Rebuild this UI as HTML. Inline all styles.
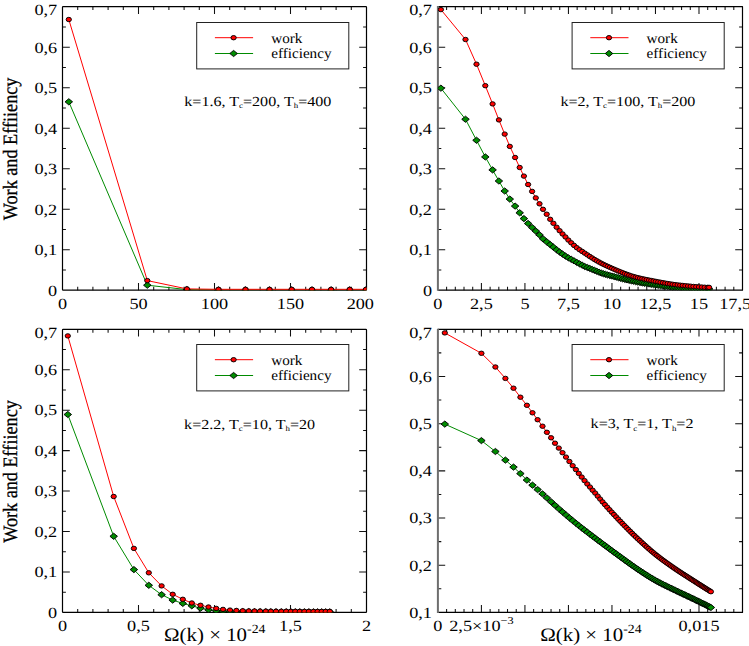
<!DOCTYPE html>
<html><head><meta charset="utf-8"><style>
html,body{margin:0;padding:0;background:#fff;width:749px;height:646px;overflow:hidden}
svg{display:block}
text{font-family:"Liberation Serif",serif;fill:#000;text-rendering:geometricPrecision}
</style></head><body>
<svg width="749" height="646" viewBox="0 0 749 646">
<path d="M77.7 290.2v-3.4M77.7 6.7v3.4M92.9 290.2v-3.4M92.9 6.7v3.4M108.1 290.2v-3.4M108.1 6.7v3.4M123.3 290.2v-3.4M123.3 6.7v3.4M138.5 290.2v-7.3M138.5 6.7v7.3M153.7 290.2v-3.4M153.7 6.7v3.4M168.9 290.2v-3.4M168.9 6.7v3.4M184.1 290.2v-3.4M184.1 6.7v3.4M199.3 290.2v-3.4M199.3 6.7v3.4M214.5 290.2v-7.3M214.5 6.7v7.3M229.7 290.2v-3.4M229.7 6.7v3.4M244.9 290.2v-3.4M244.9 6.7v3.4M260.1 290.2v-3.4M260.1 6.7v3.4M275.3 290.2v-3.4M275.3 6.7v3.4M290.5 290.2v-7.3M290.5 6.7v7.3M305.7 290.2v-3.4M305.7 6.7v3.4M320.9 290.2v-3.4M320.9 6.7v3.4M336.1 290.2v-3.4M336.1 6.7v3.4M351.3 290.2v-3.4M351.3 6.7v3.4M62.5 269.95h3.4M366.5 269.95h-3.4M62.5 249.7h7.3M366.5 249.7h-7.3M62.5 229.45h3.4M366.5 229.45h-3.4M62.5 209.2h7.3M366.5 209.2h-7.3M62.5 188.95h3.4M366.5 188.95h-3.4M62.5 168.7h7.3M366.5 168.7h-7.3M62.5 148.45h3.4M366.5 148.45h-3.4M62.5 128.2h7.3M366.5 128.2h-7.3M62.5 107.95h3.4M366.5 107.95h-3.4M62.5 87.7h7.3M366.5 87.7h-7.3M62.5 67.45h3.4M366.5 67.45h-3.4M62.5 47.2h7.3M366.5 47.2h-7.3M62.5 26.95h3.4M366.5 26.95h-3.4" stroke="#111" stroke-width="1.05" fill="none"/>
<rect x="62.5" y="6.7" width="304" height="283.5" stroke="#000" stroke-width="1.2" fill="none" rx="0.6"/>
<path d="M446.6 290.2v-3.4M446.6 6.7v3.4M455.31 290.2v-3.4M455.31 6.7v3.4M464.01 290.2v-3.4M464.01 6.7v3.4M472.71 290.2v-3.4M472.71 6.7v3.4M481.41 290.2v-7.3M481.41 6.7v7.3M490.12 290.2v-3.4M490.12 6.7v3.4M498.82 290.2v-3.4M498.82 6.7v3.4M507.52 290.2v-3.4M507.52 6.7v3.4M516.23 290.2v-3.4M516.23 6.7v3.4M524.93 290.2v-7.3M524.93 6.7v7.3M533.63 290.2v-3.4M533.63 6.7v3.4M542.33 290.2v-3.4M542.33 6.7v3.4M551.04 290.2v-3.4M551.04 6.7v3.4M559.74 290.2v-3.4M559.74 6.7v3.4M568.44 290.2v-7.3M568.44 6.7v7.3M577.15 290.2v-3.4M577.15 6.7v3.4M585.85 290.2v-3.4M585.85 6.7v3.4M594.55 290.2v-3.4M594.55 6.7v3.4M603.25 290.2v-3.4M603.25 6.7v3.4M611.96 290.2v-7.3M611.96 6.7v7.3M620.66 290.2v-3.4M620.66 6.7v3.4M629.36 290.2v-3.4M629.36 6.7v3.4M638.07 290.2v-3.4M638.07 6.7v3.4M646.77 290.2v-3.4M646.77 6.7v3.4M655.47 290.2v-7.3M655.47 6.7v7.3M664.17 290.2v-3.4M664.17 6.7v3.4M672.88 290.2v-3.4M672.88 6.7v3.4M681.58 290.2v-3.4M681.58 6.7v3.4M690.28 290.2v-3.4M690.28 6.7v3.4M698.99 290.2v-7.3M698.99 6.7v7.3M707.69 290.2v-3.4M707.69 6.7v3.4M716.39 290.2v-3.4M716.39 6.7v3.4M725.09 290.2v-3.4M725.09 6.7v3.4M733.8 290.2v-3.4M733.8 6.7v3.4M437.9 269.95h3.4M742.5 269.95h-3.4M437.9 249.7h7.3M742.5 249.7h-7.3M437.9 229.45h3.4M742.5 229.45h-3.4M437.9 209.2h7.3M742.5 209.2h-7.3M437.9 188.95h3.4M742.5 188.95h-3.4M437.9 168.7h7.3M742.5 168.7h-7.3M437.9 148.45h3.4M742.5 148.45h-3.4M437.9 128.2h7.3M742.5 128.2h-7.3M437.9 107.95h3.4M742.5 107.95h-3.4M437.9 87.7h7.3M742.5 87.7h-7.3M437.9 67.45h3.4M742.5 67.45h-3.4M437.9 47.2h7.3M742.5 47.2h-7.3M437.9 26.95h3.4M742.5 26.95h-3.4" stroke="#111" stroke-width="1.05" fill="none"/>
<path d="M437.9 6.7H742.5V290.2H437.9" stroke="#000" stroke-width="1.2" fill="none" stroke-linejoin="round"/>
<path d="M437.9 6.1V290.8" stroke="#6e6e6e" stroke-width="2" fill="none"/>
<path d="M77.7 612.4v-3.4M77.7 329.3v3.4M92.9 612.4v-3.4M92.9 329.3v3.4M108.1 612.4v-3.4M108.1 329.3v3.4M123.3 612.4v-3.4M123.3 329.3v3.4M138.5 612.4v-7.3M138.5 329.3v7.3M153.7 612.4v-3.4M153.7 329.3v3.4M168.9 612.4v-3.4M168.9 329.3v3.4M184.1 612.4v-3.4M184.1 329.3v3.4M199.3 612.4v-3.4M199.3 329.3v3.4M214.5 612.4v-7.3M214.5 329.3v7.3M229.7 612.4v-3.4M229.7 329.3v3.4M244.9 612.4v-3.4M244.9 329.3v3.4M260.1 612.4v-3.4M260.1 329.3v3.4M275.3 612.4v-3.4M275.3 329.3v3.4M290.5 612.4v-7.3M290.5 329.3v7.3M305.7 612.4v-3.4M305.7 329.3v3.4M320.9 612.4v-3.4M320.9 329.3v3.4M336.1 612.4v-3.4M336.1 329.3v3.4M351.3 612.4v-3.4M351.3 329.3v3.4M62.5 592.18h3.4M366.5 592.18h-3.4M62.5 571.96h7.3M366.5 571.96h-7.3M62.5 551.74h3.4M366.5 551.74h-3.4M62.5 531.51h7.3M366.5 531.51h-7.3M62.5 511.29h3.4M366.5 511.29h-3.4M62.5 491.07h7.3M366.5 491.07h-7.3M62.5 470.85h3.4M366.5 470.85h-3.4M62.5 450.63h7.3M366.5 450.63h-7.3M62.5 430.41h3.4M366.5 430.41h-3.4M62.5 410.19h7.3M366.5 410.19h-7.3M62.5 389.96h3.4M366.5 389.96h-3.4M62.5 369.74h7.3M366.5 369.74h-7.3M62.5 349.52h3.4M366.5 349.52h-3.4" stroke="#111" stroke-width="1.05" fill="none"/>
<rect x="62.5" y="329.3" width="304" height="283.1" stroke="#000" stroke-width="1.2" fill="none" rx="0.6"/>
<path d="M446.6 612.4v-3.4M446.6 329.3v3.4M455.31 612.4v-3.4M455.31 329.3v3.4M464.01 612.4v-3.4M464.01 329.3v3.4M472.71 612.4v-3.4M472.71 329.3v3.4M481.41 612.4v-7.3M481.41 329.3v7.3M490.12 612.4v-3.4M490.12 329.3v3.4M498.82 612.4v-3.4M498.82 329.3v3.4M507.52 612.4v-3.4M507.52 329.3v3.4M516.23 612.4v-3.4M516.23 329.3v3.4M524.93 612.4v-7.3M524.93 329.3v7.3M533.63 612.4v-3.4M533.63 329.3v3.4M542.33 612.4v-3.4M542.33 329.3v3.4M551.04 612.4v-3.4M551.04 329.3v3.4M559.74 612.4v-3.4M559.74 329.3v3.4M568.44 612.4v-7.3M568.44 329.3v7.3M577.15 612.4v-3.4M577.15 329.3v3.4M585.85 612.4v-3.4M585.85 329.3v3.4M594.55 612.4v-3.4M594.55 329.3v3.4M603.25 612.4v-3.4M603.25 329.3v3.4M611.96 612.4v-7.3M611.96 329.3v7.3M620.66 612.4v-3.4M620.66 329.3v3.4M629.36 612.4v-3.4M629.36 329.3v3.4M638.07 612.4v-3.4M638.07 329.3v3.4M646.77 612.4v-3.4M646.77 329.3v3.4M655.47 612.4v-7.3M655.47 329.3v7.3M664.17 612.4v-3.4M664.17 329.3v3.4M672.88 612.4v-3.4M672.88 329.3v3.4M681.58 612.4v-3.4M681.58 329.3v3.4M690.28 612.4v-3.4M690.28 329.3v3.4M698.99 612.4v-7.3M698.99 329.3v7.3M707.69 612.4v-3.4M707.69 329.3v3.4M716.39 612.4v-3.4M716.39 329.3v3.4M725.09 612.4v-3.4M725.09 329.3v3.4M733.8 612.4v-3.4M733.8 329.3v3.4M437.9 588.81h3.4M742.5 588.81h-3.4M437.9 565.22h7.3M742.5 565.22h-7.3M437.9 541.62h3.4M742.5 541.62h-3.4M437.9 518.03h7.3M742.5 518.03h-7.3M437.9 494.44h3.4M742.5 494.44h-3.4M437.9 470.85h7.3M742.5 470.85h-7.3M437.9 447.26h3.4M742.5 447.26h-3.4M437.9 423.67h7.3M742.5 423.67h-7.3M437.9 400.07h3.4M742.5 400.07h-3.4M437.9 376.48h7.3M742.5 376.48h-7.3M437.9 352.89h3.4M742.5 352.89h-3.4" stroke="#111" stroke-width="1.05" fill="none"/>
<path d="M437.9 329.3H742.5V612.4H437.9" stroke="#000" stroke-width="1.2" fill="none" stroke-linejoin="round"/>
<path d="M437.9 328.7V613" stroke="#6e6e6e" stroke-width="2" fill="none"/>
<svg x="62.5" y="6.7" width="304" height="283.5" viewBox="62.5 6.7 304 283.5" overflow="hidden">
<polyline points="68.8,101.8 147.3,285.2 186.9,289.6 218.5,289.9 245.5,289.9 269.5,289.9 291.7,289.9 312,289.9 331.1,289.9 349.7,289.9 366,289.9" fill="none" stroke="#008b00" stroke-width="1.0"/>
<g fill="#008c00" stroke="#000" stroke-width="0.95">
<path d="M65.05 101.8l3.75 -3.1l3.75 3.1l-3.75 3.1z"/><path d="M143.55 285.2l3.75 -3.1l3.75 3.1l-3.75 3.1z"/><path d="M183.15 289.6l3.75 -3.1l3.75 3.1l-3.75 3.1z"/><path d="M214.75 289.9l3.75 -3.1l3.75 3.1l-3.75 3.1z"/><path d="M241.75 289.9l3.75 -3.1l3.75 3.1l-3.75 3.1z"/><path d="M265.75 289.9l3.75 -3.1l3.75 3.1l-3.75 3.1z"/><path d="M287.95 289.9l3.75 -3.1l3.75 3.1l-3.75 3.1z"/><path d="M308.25 289.9l3.75 -3.1l3.75 3.1l-3.75 3.1z"/><path d="M327.35 289.9l3.75 -3.1l3.75 3.1l-3.75 3.1z"/><path d="M345.95 289.9l3.75 -3.1l3.75 3.1l-3.75 3.1z"/><path d="M362.25 289.9l3.75 -3.1l3.75 3.1l-3.75 3.1z"/>
</g></svg>
<svg x="62.5" y="6.7" width="304" height="283.5" viewBox="62.5 6.7 304 283.5" overflow="hidden">
<polyline points="68.8,19.5 147.3,280.6 186.9,288.9 218.5,289.3 245.5,289.3 269.5,289.3 291.7,289.3 312,289.3 331.1,289.3 349.7,289.3 366,289.3" fill="none" stroke="#ff0000" stroke-width="1.0"/>
<g fill="#ff0000" stroke="#000" stroke-width="0.95">
<ellipse cx="68.8" cy="19.5" rx="2.65" ry="2.2"/><ellipse cx="147.3" cy="280.6" rx="2.65" ry="2.2"/><ellipse cx="186.9" cy="288.9" rx="2.65" ry="2.2"/><ellipse cx="218.5" cy="289.3" rx="2.65" ry="2.2"/><ellipse cx="245.5" cy="289.3" rx="2.65" ry="2.2"/><ellipse cx="269.5" cy="289.3" rx="2.65" ry="2.2"/><ellipse cx="291.7" cy="289.3" rx="2.65" ry="2.2"/><ellipse cx="312" cy="289.3" rx="2.65" ry="2.2"/><ellipse cx="331.1" cy="289.3" rx="2.65" ry="2.2"/><ellipse cx="349.7" cy="289.3" rx="2.65" ry="2.2"/><ellipse cx="366" cy="289.3" rx="2.65" ry="2.2"/>
</g></svg>
<svg x="437.9" y="6.7" width="304.6" height="283.5" viewBox="437.9 6.7 304.6 283.5" overflow="hidden">
<polyline points="440.9,88.18 465.5,119.27 476.5,140.28 485.3,156.93 492.6,169.9 498.9,181 504.7,191 509.8,199.1 515.1,206.1 519.7,212.8 523.9,218.6 528.1,223.5 532.1,227.51 535.8,231.1 539.5,234.89 543,238.78 546.7,241.83 550.2,244.6 553.4,247.14 556.6,249.77 559.6,252.01 562.56,254.1 565.48,256.08 568.37,257.79 571.22,259.32 574.03,260.83 576.81,262.4 579.54,263.8 582.2,265.21 584.79,266.53 587.32,267.49 589.79,268.46 592.19,269.46 594.54,270.38 596.83,271.3 599.06,272.24 601.23,273.03 603.38,273.72 605.53,274.36 607.68,274.97 609.83,275.53 611.98,276.04 614.13,276.56 616.28,277.11 618.43,277.71 620.58,278.32 622.73,278.89 624.88,279.39 627.03,279.87 629.18,280.34 631.33,280.79 633.49,281.24 635.66,281.67 637.85,282.09 640.05,282.5 642.27,282.89 644.5,283.28 646.75,283.65 649.01,284 651.28,284.34 653.58,284.67 655.88,285 658.21,285.32 660.54,285.63 662.9,285.94 665.28,286.24 667.7,286.52 670.14,286.79 672.6,287.03 675.1,287.25 677.63,287.45 680.18,287.62 682.77,287.79 685.38,287.95 688.03,288.11 690.71,288.26 693.42,288.41 696.17,288.54 698.97,288.66 701.81,288.75 704.7,288.83 707.63,288.88 709.1,288.9" fill="none" stroke="#008b00" stroke-width="1.0"/>
<g fill="#008c00" stroke="#000" stroke-width="0.95">
<path d="M437.15 88.18l3.75 -3.1l3.75 3.1l-3.75 3.1z"/><path d="M461.75 119.27l3.75 -3.1l3.75 3.1l-3.75 3.1z"/><path d="M472.75 140.28l3.75 -3.1l3.75 3.1l-3.75 3.1z"/><path d="M481.55 156.93l3.75 -3.1l3.75 3.1l-3.75 3.1z"/><path d="M488.85 169.9l3.75 -3.1l3.75 3.1l-3.75 3.1z"/><path d="M495.15 181l3.75 -3.1l3.75 3.1l-3.75 3.1z"/><path d="M500.95 191l3.75 -3.1l3.75 3.1l-3.75 3.1z"/><path d="M506.05 199.1l3.75 -3.1l3.75 3.1l-3.75 3.1z"/><path d="M511.35 206.1l3.75 -3.1l3.75 3.1l-3.75 3.1z"/><path d="M515.95 212.8l3.75 -3.1l3.75 3.1l-3.75 3.1z"/><path d="M520.15 218.6l3.75 -3.1l3.75 3.1l-3.75 3.1z"/><path d="M524.35 223.5l3.75 -3.1l3.75 3.1l-3.75 3.1z"/><path d="M528.35 227.51l3.75 -3.1l3.75 3.1l-3.75 3.1z"/><path d="M532.05 231.1l3.75 -3.1l3.75 3.1l-3.75 3.1z"/><path d="M535.75 234.89l3.75 -3.1l3.75 3.1l-3.75 3.1z"/><path d="M539.25 238.78l3.75 -3.1l3.75 3.1l-3.75 3.1z"/><path d="M542.95 241.83l3.75 -3.1l3.75 3.1l-3.75 3.1z"/><path d="M546.45 244.6l3.75 -3.1l3.75 3.1l-3.75 3.1z"/><path d="M549.65 247.14l3.75 -3.1l3.75 3.1l-3.75 3.1z"/><path d="M552.85 249.77l3.75 -3.1l3.75 3.1l-3.75 3.1z"/><path d="M555.85 252.01l3.75 -3.1l3.75 3.1l-3.75 3.1z"/><path d="M558.81 254.1l3.75 -3.1l3.75 3.1l-3.75 3.1z"/><path d="M561.73 256.08l3.75 -3.1l3.75 3.1l-3.75 3.1z"/><path d="M564.62 257.79l3.75 -3.1l3.75 3.1l-3.75 3.1z"/><path d="M567.47 259.32l3.75 -3.1l3.75 3.1l-3.75 3.1z"/><path d="M570.28 260.83l3.75 -3.1l3.75 3.1l-3.75 3.1z"/><path d="M573.06 262.4l3.75 -3.1l3.75 3.1l-3.75 3.1z"/><path d="M575.79 263.8l3.75 -3.1l3.75 3.1l-3.75 3.1z"/><path d="M578.45 265.21l3.75 -3.1l3.75 3.1l-3.75 3.1z"/><path d="M581.04 266.53l3.75 -3.1l3.75 3.1l-3.75 3.1z"/><path d="M583.57 267.49l3.75 -3.1l3.75 3.1l-3.75 3.1z"/><path d="M586.04 268.46l3.75 -3.1l3.75 3.1l-3.75 3.1z"/><path d="M588.44 269.46l3.75 -3.1l3.75 3.1l-3.75 3.1z"/><path d="M590.79 270.38l3.75 -3.1l3.75 3.1l-3.75 3.1z"/><path d="M593.08 271.3l3.75 -3.1l3.75 3.1l-3.75 3.1z"/><path d="M595.31 272.24l3.75 -3.1l3.75 3.1l-3.75 3.1z"/><path d="M597.48 273.03l3.75 -3.1l3.75 3.1l-3.75 3.1z"/><path d="M599.63 273.72l3.75 -3.1l3.75 3.1l-3.75 3.1z"/><path d="M601.78 274.36l3.75 -3.1l3.75 3.1l-3.75 3.1z"/><path d="M603.93 274.97l3.75 -3.1l3.75 3.1l-3.75 3.1z"/><path d="M606.08 275.53l3.75 -3.1l3.75 3.1l-3.75 3.1z"/><path d="M608.23 276.04l3.75 -3.1l3.75 3.1l-3.75 3.1z"/><path d="M610.38 276.56l3.75 -3.1l3.75 3.1l-3.75 3.1z"/><path d="M612.53 277.11l3.75 -3.1l3.75 3.1l-3.75 3.1z"/><path d="M614.68 277.71l3.75 -3.1l3.75 3.1l-3.75 3.1z"/><path d="M616.83 278.32l3.75 -3.1l3.75 3.1l-3.75 3.1z"/><path d="M618.98 278.89l3.75 -3.1l3.75 3.1l-3.75 3.1z"/><path d="M621.13 279.39l3.75 -3.1l3.75 3.1l-3.75 3.1z"/><path d="M623.28 279.87l3.75 -3.1l3.75 3.1l-3.75 3.1z"/><path d="M625.43 280.34l3.75 -3.1l3.75 3.1l-3.75 3.1z"/><path d="M627.58 280.79l3.75 -3.1l3.75 3.1l-3.75 3.1z"/><path d="M629.74 281.24l3.75 -3.1l3.75 3.1l-3.75 3.1z"/><path d="M631.91 281.67l3.75 -3.1l3.75 3.1l-3.75 3.1z"/><path d="M634.1 282.09l3.75 -3.1l3.75 3.1l-3.75 3.1z"/><path d="M636.3 282.5l3.75 -3.1l3.75 3.1l-3.75 3.1z"/><path d="M638.52 282.89l3.75 -3.1l3.75 3.1l-3.75 3.1z"/><path d="M640.75 283.28l3.75 -3.1l3.75 3.1l-3.75 3.1z"/><path d="M643 283.65l3.75 -3.1l3.75 3.1l-3.75 3.1z"/><path d="M645.26 284l3.75 -3.1l3.75 3.1l-3.75 3.1z"/><path d="M647.53 284.34l3.75 -3.1l3.75 3.1l-3.75 3.1z"/><path d="M649.83 284.67l3.75 -3.1l3.75 3.1l-3.75 3.1z"/><path d="M652.13 285l3.75 -3.1l3.75 3.1l-3.75 3.1z"/><path d="M654.46 285.32l3.75 -3.1l3.75 3.1l-3.75 3.1z"/><path d="M656.79 285.63l3.75 -3.1l3.75 3.1l-3.75 3.1z"/><path d="M659.15 285.94l3.75 -3.1l3.75 3.1l-3.75 3.1z"/><path d="M661.53 286.24l3.75 -3.1l3.75 3.1l-3.75 3.1z"/><path d="M663.95 286.52l3.75 -3.1l3.75 3.1l-3.75 3.1z"/><path d="M666.39 286.79l3.75 -3.1l3.75 3.1l-3.75 3.1z"/><path d="M668.85 287.03l3.75 -3.1l3.75 3.1l-3.75 3.1z"/><path d="M671.35 287.25l3.75 -3.1l3.75 3.1l-3.75 3.1z"/><path d="M673.88 287.45l3.75 -3.1l3.75 3.1l-3.75 3.1z"/><path d="M676.43 287.62l3.75 -3.1l3.75 3.1l-3.75 3.1z"/><path d="M679.02 287.79l3.75 -3.1l3.75 3.1l-3.75 3.1z"/><path d="M681.63 287.95l3.75 -3.1l3.75 3.1l-3.75 3.1z"/><path d="M684.28 288.11l3.75 -3.1l3.75 3.1l-3.75 3.1z"/><path d="M686.96 288.26l3.75 -3.1l3.75 3.1l-3.75 3.1z"/><path d="M689.67 288.41l3.75 -3.1l3.75 3.1l-3.75 3.1z"/><path d="M692.42 288.54l3.75 -3.1l3.75 3.1l-3.75 3.1z"/><path d="M695.22 288.66l3.75 -3.1l3.75 3.1l-3.75 3.1z"/><path d="M698.06 288.75l3.75 -3.1l3.75 3.1l-3.75 3.1z"/><path d="M700.95 288.83l3.75 -3.1l3.75 3.1l-3.75 3.1z"/><path d="M703.88 288.88l3.75 -3.1l3.75 3.1l-3.75 3.1z"/><path d="M705.35 288.9l3.75 -3.1l3.75 3.1l-3.75 3.1z"/>
</g></svg>
<svg x="437.9" y="6.7" width="304.6" height="283.5" viewBox="437.9 6.7 304.6 283.5" overflow="hidden">
<polyline points="440.9,9.6 465.5,39.5 476.5,64.2 485.3,85.69 492.6,103.9 498.9,119.9 504.7,134.1 509.8,146.4 515.1,157.5 519.7,167.5 523.9,176.1 528.1,184.5 532.1,191.4 535.8,197.9 539.5,203.8 543,209.3 546.7,214.2 550.2,219.3 553.4,223.3 556.6,227.2 559.6,230.7 562.56,233.96 565.48,236.98 568.37,240.07 571.22,242.81 574.03,245.39 576.81,247.72 579.54,249.69 582.2,251.46 584.79,253.16 587.32,254.85 589.79,256.46 592.19,258 594.54,259.47 596.83,260.82 599.06,262.07 601.23,263.24 603.38,264.34 605.53,265.37 607.68,266.36 609.83,267.32 611.98,268.28 614.13,269.22 616.28,270.14 618.43,271.03 620.58,271.9 622.73,272.76 624.88,273.58 627.03,274.36 629.18,275.13 631.33,275.86 633.49,276.53 635.66,277.12 637.85,277.67 640.05,278.19 642.27,278.69 644.5,279.17 646.75,279.63 649.01,280.08 651.28,280.52 653.58,280.96 655.88,281.4 658.21,281.84 660.54,282.27 662.9,282.7 665.28,283.12 667.7,283.53 670.14,283.91 672.6,284.28 675.1,284.61 677.63,284.92 680.18,285.19 682.77,285.46 685.38,285.72 688.03,285.98 690.71,286.23 693.42,286.46 696.17,286.68 698.97,286.88 701.81,287.06 704.7,287.22 707.63,287.35 709.1,287.4" fill="none" stroke="#ff0000" stroke-width="1.0"/>
<g fill="#ff0000" stroke="#000" stroke-width="0.95">
<ellipse cx="440.9" cy="9.6" rx="2.65" ry="2.2"/><ellipse cx="465.5" cy="39.5" rx="2.65" ry="2.2"/><ellipse cx="476.5" cy="64.2" rx="2.65" ry="2.2"/><ellipse cx="485.3" cy="85.69" rx="2.65" ry="2.2"/><ellipse cx="492.6" cy="103.9" rx="2.65" ry="2.2"/><ellipse cx="498.9" cy="119.9" rx="2.65" ry="2.2"/><ellipse cx="504.7" cy="134.1" rx="2.65" ry="2.2"/><ellipse cx="509.8" cy="146.4" rx="2.65" ry="2.2"/><ellipse cx="515.1" cy="157.5" rx="2.65" ry="2.2"/><ellipse cx="519.7" cy="167.5" rx="2.65" ry="2.2"/><ellipse cx="523.9" cy="176.1" rx="2.65" ry="2.2"/><ellipse cx="528.1" cy="184.5" rx="2.65" ry="2.2"/><ellipse cx="532.1" cy="191.4" rx="2.65" ry="2.2"/><ellipse cx="535.8" cy="197.9" rx="2.65" ry="2.2"/><ellipse cx="539.5" cy="203.8" rx="2.65" ry="2.2"/><ellipse cx="543" cy="209.3" rx="2.65" ry="2.2"/><ellipse cx="546.7" cy="214.2" rx="2.65" ry="2.2"/><ellipse cx="550.2" cy="219.3" rx="2.65" ry="2.2"/><ellipse cx="553.4" cy="223.3" rx="2.65" ry="2.2"/><ellipse cx="556.6" cy="227.2" rx="2.65" ry="2.2"/><ellipse cx="559.6" cy="230.7" rx="2.65" ry="2.2"/><ellipse cx="562.56" cy="233.96" rx="2.65" ry="2.2"/><ellipse cx="565.48" cy="236.98" rx="2.65" ry="2.2"/><ellipse cx="568.37" cy="240.07" rx="2.65" ry="2.2"/><ellipse cx="571.22" cy="242.81" rx="2.65" ry="2.2"/><ellipse cx="574.03" cy="245.39" rx="2.65" ry="2.2"/><ellipse cx="576.81" cy="247.72" rx="2.65" ry="2.2"/><ellipse cx="579.54" cy="249.69" rx="2.65" ry="2.2"/><ellipse cx="582.2" cy="251.46" rx="2.65" ry="2.2"/><ellipse cx="584.79" cy="253.16" rx="2.65" ry="2.2"/><ellipse cx="587.32" cy="254.85" rx="2.65" ry="2.2"/><ellipse cx="589.79" cy="256.46" rx="2.65" ry="2.2"/><ellipse cx="592.19" cy="258" rx="2.65" ry="2.2"/><ellipse cx="594.54" cy="259.47" rx="2.65" ry="2.2"/><ellipse cx="596.83" cy="260.82" rx="2.65" ry="2.2"/><ellipse cx="599.06" cy="262.07" rx="2.65" ry="2.2"/><ellipse cx="601.23" cy="263.24" rx="2.65" ry="2.2"/><ellipse cx="603.38" cy="264.34" rx="2.65" ry="2.2"/><ellipse cx="605.53" cy="265.37" rx="2.65" ry="2.2"/><ellipse cx="607.68" cy="266.36" rx="2.65" ry="2.2"/><ellipse cx="609.83" cy="267.32" rx="2.65" ry="2.2"/><ellipse cx="611.98" cy="268.28" rx="2.65" ry="2.2"/><ellipse cx="614.13" cy="269.22" rx="2.65" ry="2.2"/><ellipse cx="616.28" cy="270.14" rx="2.65" ry="2.2"/><ellipse cx="618.43" cy="271.03" rx="2.65" ry="2.2"/><ellipse cx="620.58" cy="271.9" rx="2.65" ry="2.2"/><ellipse cx="622.73" cy="272.76" rx="2.65" ry="2.2"/><ellipse cx="624.88" cy="273.58" rx="2.65" ry="2.2"/><ellipse cx="627.03" cy="274.36" rx="2.65" ry="2.2"/><ellipse cx="629.18" cy="275.13" rx="2.65" ry="2.2"/><ellipse cx="631.33" cy="275.86" rx="2.65" ry="2.2"/><ellipse cx="633.49" cy="276.53" rx="2.65" ry="2.2"/><ellipse cx="635.66" cy="277.12" rx="2.65" ry="2.2"/><ellipse cx="637.85" cy="277.67" rx="2.65" ry="2.2"/><ellipse cx="640.05" cy="278.19" rx="2.65" ry="2.2"/><ellipse cx="642.27" cy="278.69" rx="2.65" ry="2.2"/><ellipse cx="644.5" cy="279.17" rx="2.65" ry="2.2"/><ellipse cx="646.75" cy="279.63" rx="2.65" ry="2.2"/><ellipse cx="649.01" cy="280.08" rx="2.65" ry="2.2"/><ellipse cx="651.28" cy="280.52" rx="2.65" ry="2.2"/><ellipse cx="653.58" cy="280.96" rx="2.65" ry="2.2"/><ellipse cx="655.88" cy="281.4" rx="2.65" ry="2.2"/><ellipse cx="658.21" cy="281.84" rx="2.65" ry="2.2"/><ellipse cx="660.54" cy="282.27" rx="2.65" ry="2.2"/><ellipse cx="662.9" cy="282.7" rx="2.65" ry="2.2"/><ellipse cx="665.28" cy="283.12" rx="2.65" ry="2.2"/><ellipse cx="667.7" cy="283.53" rx="2.65" ry="2.2"/><ellipse cx="670.14" cy="283.91" rx="2.65" ry="2.2"/><ellipse cx="672.6" cy="284.28" rx="2.65" ry="2.2"/><ellipse cx="675.1" cy="284.61" rx="2.65" ry="2.2"/><ellipse cx="677.63" cy="284.92" rx="2.65" ry="2.2"/><ellipse cx="680.18" cy="285.19" rx="2.65" ry="2.2"/><ellipse cx="682.77" cy="285.46" rx="2.65" ry="2.2"/><ellipse cx="685.38" cy="285.72" rx="2.65" ry="2.2"/><ellipse cx="688.03" cy="285.98" rx="2.65" ry="2.2"/><ellipse cx="690.71" cy="286.23" rx="2.65" ry="2.2"/><ellipse cx="693.42" cy="286.46" rx="2.65" ry="2.2"/><ellipse cx="696.17" cy="286.68" rx="2.65" ry="2.2"/><ellipse cx="698.97" cy="286.88" rx="2.65" ry="2.2"/><ellipse cx="701.81" cy="287.06" rx="2.65" ry="2.2"/><ellipse cx="704.7" cy="287.22" rx="2.65" ry="2.2"/><ellipse cx="707.63" cy="287.35" rx="2.65" ry="2.2"/><ellipse cx="709.1" cy="287.4" rx="2.65" ry="2.2"/>
</g></svg>
<svg x="62.5" y="329.3" width="304" height="283.1" viewBox="62.5 329.3 304 283.1" overflow="hidden">
<polyline points="67.8,414.5 113.7,536.3 133.9,569.6 148.8,585.3 161.6,594.7 172.7,600.1 182.8,603.4 191.8,605.8 200.5,608.2 208.5,609.8 216.2,610.8 223,611.18 230,611.4 236.4,611.5 242.7,611.58 248.8,611.63 254.5,611.67 260.1,611.7 265.8,611.73 270.8,611.75 276,611.77 281.3,611.79 286.2,611.81 290.8,611.83 295.3,611.84 299.8,611.86 304.4,611.87 308.9,611.88 313.5,611.89 317.6,611.89 321.7,611.9 325.7,611.9 329.8,611.9" fill="none" stroke="#008b00" stroke-width="1.0"/>
<g fill="#008c00" stroke="#000" stroke-width="0.95">
<path d="M64.05 414.5l3.75 -3.1l3.75 3.1l-3.75 3.1z"/><path d="M109.95 536.3l3.75 -3.1l3.75 3.1l-3.75 3.1z"/><path d="M130.15 569.6l3.75 -3.1l3.75 3.1l-3.75 3.1z"/><path d="M145.05 585.3l3.75 -3.1l3.75 3.1l-3.75 3.1z"/><path d="M157.85 594.7l3.75 -3.1l3.75 3.1l-3.75 3.1z"/><path d="M168.95 600.1l3.75 -3.1l3.75 3.1l-3.75 3.1z"/><path d="M179.05 603.4l3.75 -3.1l3.75 3.1l-3.75 3.1z"/><path d="M188.05 605.8l3.75 -3.1l3.75 3.1l-3.75 3.1z"/><path d="M196.75 608.2l3.75 -3.1l3.75 3.1l-3.75 3.1z"/><path d="M204.75 609.8l3.75 -3.1l3.75 3.1l-3.75 3.1z"/><path d="M212.45 610.8l3.75 -3.1l3.75 3.1l-3.75 3.1z"/><path d="M219.25 611.18l3.75 -3.1l3.75 3.1l-3.75 3.1z"/><path d="M226.25 611.4l3.75 -3.1l3.75 3.1l-3.75 3.1z"/><path d="M232.65 611.5l3.75 -3.1l3.75 3.1l-3.75 3.1z"/><path d="M238.95 611.58l3.75 -3.1l3.75 3.1l-3.75 3.1z"/><path d="M245.05 611.63l3.75 -3.1l3.75 3.1l-3.75 3.1z"/><path d="M250.75 611.67l3.75 -3.1l3.75 3.1l-3.75 3.1z"/><path d="M256.35 611.7l3.75 -3.1l3.75 3.1l-3.75 3.1z"/><path d="M262.05 611.73l3.75 -3.1l3.75 3.1l-3.75 3.1z"/><path d="M267.05 611.75l3.75 -3.1l3.75 3.1l-3.75 3.1z"/><path d="M272.25 611.77l3.75 -3.1l3.75 3.1l-3.75 3.1z"/><path d="M277.55 611.79l3.75 -3.1l3.75 3.1l-3.75 3.1z"/><path d="M282.45 611.81l3.75 -3.1l3.75 3.1l-3.75 3.1z"/><path d="M287.05 611.83l3.75 -3.1l3.75 3.1l-3.75 3.1z"/><path d="M291.55 611.84l3.75 -3.1l3.75 3.1l-3.75 3.1z"/><path d="M296.05 611.86l3.75 -3.1l3.75 3.1l-3.75 3.1z"/><path d="M300.65 611.87l3.75 -3.1l3.75 3.1l-3.75 3.1z"/><path d="M305.15 611.88l3.75 -3.1l3.75 3.1l-3.75 3.1z"/><path d="M309.75 611.89l3.75 -3.1l3.75 3.1l-3.75 3.1z"/><path d="M313.85 611.89l3.75 -3.1l3.75 3.1l-3.75 3.1z"/><path d="M317.95 611.9l3.75 -3.1l3.75 3.1l-3.75 3.1z"/><path d="M321.95 611.9l3.75 -3.1l3.75 3.1l-3.75 3.1z"/><path d="M326.05 611.9l3.75 -3.1l3.75 3.1l-3.75 3.1z"/>
</g></svg>
<svg x="62.5" y="329.3" width="304" height="283.1" viewBox="62.5 329.3 304 283.1" overflow="hidden">
<polyline points="67.8,335.9 113.7,496.5 133.9,548.4 148.8,572.8 161.6,585.9 172.7,594.3 182.8,599.3 191.8,603 200.5,605.3 208.5,607 216.2,608.4 223,609.4 230,610.1 236.4,610.5 242.7,610.8 248.8,610.94 254.5,611.04 260.1,611.1 265.8,611.15 270.8,611.19 276,611.23 281.3,611.26 286.2,611.28 290.8,611.3 295.3,611.32 299.8,611.34 304.4,611.35 308.9,611.36 313.5,611.38 317.6,611.39 321.7,611.39 325.7,611.4 329.8,611.4" fill="none" stroke="#ff0000" stroke-width="1.0"/>
<g fill="#ff0000" stroke="#000" stroke-width="0.95">
<ellipse cx="67.8" cy="335.9" rx="2.65" ry="2.2"/><ellipse cx="113.7" cy="496.5" rx="2.65" ry="2.2"/><ellipse cx="133.9" cy="548.4" rx="2.65" ry="2.2"/><ellipse cx="148.8" cy="572.8" rx="2.65" ry="2.2"/><ellipse cx="161.6" cy="585.9" rx="2.65" ry="2.2"/><ellipse cx="172.7" cy="594.3" rx="2.65" ry="2.2"/><ellipse cx="182.8" cy="599.3" rx="2.65" ry="2.2"/><ellipse cx="191.8" cy="603" rx="2.65" ry="2.2"/><ellipse cx="200.5" cy="605.3" rx="2.65" ry="2.2"/><ellipse cx="208.5" cy="607" rx="2.65" ry="2.2"/><ellipse cx="216.2" cy="608.4" rx="2.65" ry="2.2"/><ellipse cx="223" cy="609.4" rx="2.65" ry="2.2"/><ellipse cx="230" cy="610.1" rx="2.65" ry="2.2"/><ellipse cx="236.4" cy="610.5" rx="2.65" ry="2.2"/><ellipse cx="242.7" cy="610.8" rx="2.65" ry="2.2"/><ellipse cx="248.8" cy="610.94" rx="2.65" ry="2.2"/><ellipse cx="254.5" cy="611.04" rx="2.65" ry="2.2"/><ellipse cx="260.1" cy="611.1" rx="2.65" ry="2.2"/><ellipse cx="265.8" cy="611.15" rx="2.65" ry="2.2"/><ellipse cx="270.8" cy="611.19" rx="2.65" ry="2.2"/><ellipse cx="276" cy="611.23" rx="2.65" ry="2.2"/><ellipse cx="281.3" cy="611.26" rx="2.65" ry="2.2"/><ellipse cx="286.2" cy="611.28" rx="2.65" ry="2.2"/><ellipse cx="290.8" cy="611.3" rx="2.65" ry="2.2"/><ellipse cx="295.3" cy="611.32" rx="2.65" ry="2.2"/><ellipse cx="299.8" cy="611.34" rx="2.65" ry="2.2"/><ellipse cx="304.4" cy="611.35" rx="2.65" ry="2.2"/><ellipse cx="308.9" cy="611.36" rx="2.65" ry="2.2"/><ellipse cx="313.5" cy="611.38" rx="2.65" ry="2.2"/><ellipse cx="317.6" cy="611.39" rx="2.65" ry="2.2"/><ellipse cx="321.7" cy="611.39" rx="2.65" ry="2.2"/><ellipse cx="325.7" cy="611.4" rx="2.65" ry="2.2"/><ellipse cx="329.8" cy="611.4" rx="2.65" ry="2.2"/>
</g></svg>
<svg x="437.9" y="329.3" width="304.6" height="283.1" viewBox="437.9 329.3 304.6 283.1" overflow="hidden">
<polyline points="444.8,424.1 481.4,440.6 495.4,451.5 505.4,460.1 513.5,467.1 520.4,473.6 526.9,480.09 532.5,485.17 537.6,489.59 542.5,493.9 546.9,497.91 551.1,501.78 555,505.35 558.8,508.74 562.5,511.97 566,514.98 569.4,517.87 572.7,520.61 575.9,523.23 578.8,525.56 581.7,527.84 584.53,530.05 587.3,532.18 590,534.25 592.63,536.26 595.21,538.22 597.72,540.1 600.17,541.93 602.57,543.72 604.93,545.48 607.24,547.21 609.52,548.91 611.77,550.57 613.97,552.2 616.14,553.8 618.27,555.36 620.36,556.89 622.42,558.39 624.45,559.87 626.44,561.33 628.4,562.74 630.33,564.13 632.23,565.47 634.1,566.79 635.96,568.06 637.8,569.3 639.62,570.52 641.43,571.73 643.21,572.91 644.98,574.06 646.73,575.19 648.46,576.29 650.18,577.35 651.88,578.38 653.56,579.38 655.22,580.33 656.87,581.25 658.5,582.12 660.12,582.97 661.72,583.79 663.3,584.58 664.87,585.35 666.42,586.11 667.95,586.85 669.47,587.58 670.98,588.3 672.47,589.01 673.94,589.73 675.41,590.44 676.85,591.13 678.28,591.81 679.7,592.48 681.1,593.14 682.49,593.79 683.87,594.44 685.23,595.07 686.58,595.71 687.92,596.33 689.24,596.96 690.55,597.58 691.85,598.2 693.13,598.81 694.4,599.42 695.66,600.03 696.91,600.64 698.15,601.24 699.37,601.83 700.58,602.42 701.78,603.01 702.97,603.59 704.15,604.17 705.31,604.74 706.47,605.31 707.61,605.87 708.74,606.43 709.87,606.99 710.9,607.5" fill="none" stroke="#008b00" stroke-width="1.0"/>
<g fill="#008c00" stroke="#000" stroke-width="0.95">
<path d="M441.05 424.1l3.75 -3.1l3.75 3.1l-3.75 3.1z"/><path d="M477.65 440.6l3.75 -3.1l3.75 3.1l-3.75 3.1z"/><path d="M491.65 451.5l3.75 -3.1l3.75 3.1l-3.75 3.1z"/><path d="M501.65 460.1l3.75 -3.1l3.75 3.1l-3.75 3.1z"/><path d="M509.75 467.1l3.75 -3.1l3.75 3.1l-3.75 3.1z"/><path d="M516.65 473.6l3.75 -3.1l3.75 3.1l-3.75 3.1z"/><path d="M523.15 480.09l3.75 -3.1l3.75 3.1l-3.75 3.1z"/><path d="M528.75 485.17l3.75 -3.1l3.75 3.1l-3.75 3.1z"/><path d="M533.85 489.59l3.75 -3.1l3.75 3.1l-3.75 3.1z"/><path d="M538.75 493.9l3.75 -3.1l3.75 3.1l-3.75 3.1z"/><path d="M543.15 497.91l3.75 -3.1l3.75 3.1l-3.75 3.1z"/><path d="M547.35 501.78l3.75 -3.1l3.75 3.1l-3.75 3.1z"/><path d="M551.25 505.35l3.75 -3.1l3.75 3.1l-3.75 3.1z"/><path d="M555.05 508.74l3.75 -3.1l3.75 3.1l-3.75 3.1z"/><path d="M558.75 511.97l3.75 -3.1l3.75 3.1l-3.75 3.1z"/><path d="M562.25 514.98l3.75 -3.1l3.75 3.1l-3.75 3.1z"/><path d="M565.65 517.87l3.75 -3.1l3.75 3.1l-3.75 3.1z"/><path d="M568.95 520.61l3.75 -3.1l3.75 3.1l-3.75 3.1z"/><path d="M572.15 523.23l3.75 -3.1l3.75 3.1l-3.75 3.1z"/><path d="M575.05 525.56l3.75 -3.1l3.75 3.1l-3.75 3.1z"/><path d="M577.95 527.84l3.75 -3.1l3.75 3.1l-3.75 3.1z"/><path d="M580.78 530.05l3.75 -3.1l3.75 3.1l-3.75 3.1z"/><path d="M583.55 532.18l3.75 -3.1l3.75 3.1l-3.75 3.1z"/><path d="M586.25 534.25l3.75 -3.1l3.75 3.1l-3.75 3.1z"/><path d="M588.88 536.26l3.75 -3.1l3.75 3.1l-3.75 3.1z"/><path d="M591.46 538.22l3.75 -3.1l3.75 3.1l-3.75 3.1z"/><path d="M593.97 540.1l3.75 -3.1l3.75 3.1l-3.75 3.1z"/><path d="M596.42 541.93l3.75 -3.1l3.75 3.1l-3.75 3.1z"/><path d="M598.82 543.72l3.75 -3.1l3.75 3.1l-3.75 3.1z"/><path d="M601.18 545.48l3.75 -3.1l3.75 3.1l-3.75 3.1z"/><path d="M603.49 547.21l3.75 -3.1l3.75 3.1l-3.75 3.1z"/><path d="M605.77 548.91l3.75 -3.1l3.75 3.1l-3.75 3.1z"/><path d="M608.02 550.57l3.75 -3.1l3.75 3.1l-3.75 3.1z"/><path d="M610.22 552.2l3.75 -3.1l3.75 3.1l-3.75 3.1z"/><path d="M612.39 553.8l3.75 -3.1l3.75 3.1l-3.75 3.1z"/><path d="M614.52 555.36l3.75 -3.1l3.75 3.1l-3.75 3.1z"/><path d="M616.61 556.89l3.75 -3.1l3.75 3.1l-3.75 3.1z"/><path d="M618.67 558.39l3.75 -3.1l3.75 3.1l-3.75 3.1z"/><path d="M620.7 559.87l3.75 -3.1l3.75 3.1l-3.75 3.1z"/><path d="M622.69 561.33l3.75 -3.1l3.75 3.1l-3.75 3.1z"/><path d="M624.65 562.74l3.75 -3.1l3.75 3.1l-3.75 3.1z"/><path d="M626.58 564.13l3.75 -3.1l3.75 3.1l-3.75 3.1z"/><path d="M628.48 565.47l3.75 -3.1l3.75 3.1l-3.75 3.1z"/><path d="M630.35 566.79l3.75 -3.1l3.75 3.1l-3.75 3.1z"/><path d="M632.21 568.06l3.75 -3.1l3.75 3.1l-3.75 3.1z"/><path d="M634.05 569.3l3.75 -3.1l3.75 3.1l-3.75 3.1z"/><path d="M635.87 570.52l3.75 -3.1l3.75 3.1l-3.75 3.1z"/><path d="M637.68 571.73l3.75 -3.1l3.75 3.1l-3.75 3.1z"/><path d="M639.46 572.91l3.75 -3.1l3.75 3.1l-3.75 3.1z"/><path d="M641.23 574.06l3.75 -3.1l3.75 3.1l-3.75 3.1z"/><path d="M642.98 575.19l3.75 -3.1l3.75 3.1l-3.75 3.1z"/><path d="M644.71 576.29l3.75 -3.1l3.75 3.1l-3.75 3.1z"/><path d="M646.43 577.35l3.75 -3.1l3.75 3.1l-3.75 3.1z"/><path d="M648.13 578.38l3.75 -3.1l3.75 3.1l-3.75 3.1z"/><path d="M649.81 579.38l3.75 -3.1l3.75 3.1l-3.75 3.1z"/><path d="M651.47 580.33l3.75 -3.1l3.75 3.1l-3.75 3.1z"/><path d="M653.12 581.25l3.75 -3.1l3.75 3.1l-3.75 3.1z"/><path d="M654.75 582.12l3.75 -3.1l3.75 3.1l-3.75 3.1z"/><path d="M656.37 582.97l3.75 -3.1l3.75 3.1l-3.75 3.1z"/><path d="M657.97 583.79l3.75 -3.1l3.75 3.1l-3.75 3.1z"/><path d="M659.55 584.58l3.75 -3.1l3.75 3.1l-3.75 3.1z"/><path d="M661.12 585.35l3.75 -3.1l3.75 3.1l-3.75 3.1z"/><path d="M662.67 586.11l3.75 -3.1l3.75 3.1l-3.75 3.1z"/><path d="M664.2 586.85l3.75 -3.1l3.75 3.1l-3.75 3.1z"/><path d="M665.72 587.58l3.75 -3.1l3.75 3.1l-3.75 3.1z"/><path d="M667.23 588.3l3.75 -3.1l3.75 3.1l-3.75 3.1z"/><path d="M668.72 589.01l3.75 -3.1l3.75 3.1l-3.75 3.1z"/><path d="M670.19 589.73l3.75 -3.1l3.75 3.1l-3.75 3.1z"/><path d="M671.66 590.44l3.75 -3.1l3.75 3.1l-3.75 3.1z"/><path d="M673.1 591.13l3.75 -3.1l3.75 3.1l-3.75 3.1z"/><path d="M674.53 591.81l3.75 -3.1l3.75 3.1l-3.75 3.1z"/><path d="M675.95 592.48l3.75 -3.1l3.75 3.1l-3.75 3.1z"/><path d="M677.35 593.14l3.75 -3.1l3.75 3.1l-3.75 3.1z"/><path d="M678.74 593.79l3.75 -3.1l3.75 3.1l-3.75 3.1z"/><path d="M680.12 594.44l3.75 -3.1l3.75 3.1l-3.75 3.1z"/><path d="M681.48 595.07l3.75 -3.1l3.75 3.1l-3.75 3.1z"/><path d="M682.83 595.71l3.75 -3.1l3.75 3.1l-3.75 3.1z"/><path d="M684.17 596.33l3.75 -3.1l3.75 3.1l-3.75 3.1z"/><path d="M685.49 596.96l3.75 -3.1l3.75 3.1l-3.75 3.1z"/><path d="M686.8 597.58l3.75 -3.1l3.75 3.1l-3.75 3.1z"/><path d="M688.1 598.2l3.75 -3.1l3.75 3.1l-3.75 3.1z"/><path d="M689.38 598.81l3.75 -3.1l3.75 3.1l-3.75 3.1z"/><path d="M690.65 599.42l3.75 -3.1l3.75 3.1l-3.75 3.1z"/><path d="M691.91 600.03l3.75 -3.1l3.75 3.1l-3.75 3.1z"/><path d="M693.16 600.64l3.75 -3.1l3.75 3.1l-3.75 3.1z"/><path d="M694.4 601.24l3.75 -3.1l3.75 3.1l-3.75 3.1z"/><path d="M695.62 601.83l3.75 -3.1l3.75 3.1l-3.75 3.1z"/><path d="M696.83 602.42l3.75 -3.1l3.75 3.1l-3.75 3.1z"/><path d="M698.03 603.01l3.75 -3.1l3.75 3.1l-3.75 3.1z"/><path d="M699.22 603.59l3.75 -3.1l3.75 3.1l-3.75 3.1z"/><path d="M700.4 604.17l3.75 -3.1l3.75 3.1l-3.75 3.1z"/><path d="M701.56 604.74l3.75 -3.1l3.75 3.1l-3.75 3.1z"/><path d="M702.72 605.31l3.75 -3.1l3.75 3.1l-3.75 3.1z"/><path d="M703.86 605.87l3.75 -3.1l3.75 3.1l-3.75 3.1z"/><path d="M704.99 606.43l3.75 -3.1l3.75 3.1l-3.75 3.1z"/><path d="M706.12 606.99l3.75 -3.1l3.75 3.1l-3.75 3.1z"/><path d="M707.15 607.5l3.75 -3.1l3.75 3.1l-3.75 3.1z"/>
</g></svg>
<svg x="437.9" y="329.3" width="304.6" height="283.1" viewBox="437.9 329.3 304.6 283.1" overflow="hidden">
<polyline points="444.8,332.9 481.4,353.3 495.4,367 505.4,378.4 513.5,388.2 520.4,397.2 526.9,405.3 532.5,412.8 537.6,419.7 542.5,426.2 546.9,432.3 551.1,437.8 555,443.2 558.8,448.1 562.5,452.7 566,457.1 569.4,461.5 572.7,465.7 575.9,469.6 578.8,473.4 581.7,477.07 584.53,480.62 587.3,483.98 590,487.08 592.63,490.24 595.21,493.11 597.72,496.14 600.17,499.1 602.57,501.91 604.93,504.61 607.24,507.22 609.52,509.74 611.77,512.19 613.97,514.57 616.14,516.89 618.27,519.15 620.36,521.35 622.42,523.5 624.45,525.59 626.44,527.62 628.4,529.6 630.33,531.53 632.23,533.41 634.1,535.25 635.96,537.03 637.8,538.76 639.62,540.46 641.43,542.13 643.21,543.77 644.98,545.38 646.73,546.96 648.46,548.5 650.18,549.99 651.88,551.45 653.56,552.85 655.22,554.22 656.87,555.53 658.5,556.81 660.12,558.04 661.72,559.25 663.3,560.42 664.87,561.57 666.42,562.68 667.95,563.78 669.47,564.85 670.98,565.9 672.47,566.94 673.94,567.96 675.41,568.96 676.85,569.93 678.28,570.89 679.7,571.83 681.1,572.74 682.49,573.64 683.87,574.53 685.23,575.4 686.58,576.27 687.92,577.12 689.24,577.96 690.55,578.8 691.85,579.63 693.13,580.45 694.4,581.26 695.66,582.07 696.91,582.87 698.15,583.66 699.37,584.43 700.58,585.2 701.78,585.96 702.97,586.72 704.15,587.46 705.31,588.2 706.47,588.92 707.61,589.64 708.74,590.35 709.87,591.05 710.9,591.7" fill="none" stroke="#ff0000" stroke-width="1.0"/>
<g fill="#ff0000" stroke="#000" stroke-width="0.95">
<ellipse cx="444.8" cy="332.9" rx="2.65" ry="2.2"/><ellipse cx="481.4" cy="353.3" rx="2.65" ry="2.2"/><ellipse cx="495.4" cy="367" rx="2.65" ry="2.2"/><ellipse cx="505.4" cy="378.4" rx="2.65" ry="2.2"/><ellipse cx="513.5" cy="388.2" rx="2.65" ry="2.2"/><ellipse cx="520.4" cy="397.2" rx="2.65" ry="2.2"/><ellipse cx="526.9" cy="405.3" rx="2.65" ry="2.2"/><ellipse cx="532.5" cy="412.8" rx="2.65" ry="2.2"/><ellipse cx="537.6" cy="419.7" rx="2.65" ry="2.2"/><ellipse cx="542.5" cy="426.2" rx="2.65" ry="2.2"/><ellipse cx="546.9" cy="432.3" rx="2.65" ry="2.2"/><ellipse cx="551.1" cy="437.8" rx="2.65" ry="2.2"/><ellipse cx="555" cy="443.2" rx="2.65" ry="2.2"/><ellipse cx="558.8" cy="448.1" rx="2.65" ry="2.2"/><ellipse cx="562.5" cy="452.7" rx="2.65" ry="2.2"/><ellipse cx="566" cy="457.1" rx="2.65" ry="2.2"/><ellipse cx="569.4" cy="461.5" rx="2.65" ry="2.2"/><ellipse cx="572.7" cy="465.7" rx="2.65" ry="2.2"/><ellipse cx="575.9" cy="469.6" rx="2.65" ry="2.2"/><ellipse cx="578.8" cy="473.4" rx="2.65" ry="2.2"/><ellipse cx="581.7" cy="477.07" rx="2.65" ry="2.2"/><ellipse cx="584.53" cy="480.62" rx="2.65" ry="2.2"/><ellipse cx="587.3" cy="483.98" rx="2.65" ry="2.2"/><ellipse cx="590" cy="487.08" rx="2.65" ry="2.2"/><ellipse cx="592.63" cy="490.24" rx="2.65" ry="2.2"/><ellipse cx="595.21" cy="493.11" rx="2.65" ry="2.2"/><ellipse cx="597.72" cy="496.14" rx="2.65" ry="2.2"/><ellipse cx="600.17" cy="499.1" rx="2.65" ry="2.2"/><ellipse cx="602.57" cy="501.91" rx="2.65" ry="2.2"/><ellipse cx="604.93" cy="504.61" rx="2.65" ry="2.2"/><ellipse cx="607.24" cy="507.22" rx="2.65" ry="2.2"/><ellipse cx="609.52" cy="509.74" rx="2.65" ry="2.2"/><ellipse cx="611.77" cy="512.19" rx="2.65" ry="2.2"/><ellipse cx="613.97" cy="514.57" rx="2.65" ry="2.2"/><ellipse cx="616.14" cy="516.89" rx="2.65" ry="2.2"/><ellipse cx="618.27" cy="519.15" rx="2.65" ry="2.2"/><ellipse cx="620.36" cy="521.35" rx="2.65" ry="2.2"/><ellipse cx="622.42" cy="523.5" rx="2.65" ry="2.2"/><ellipse cx="624.45" cy="525.59" rx="2.65" ry="2.2"/><ellipse cx="626.44" cy="527.62" rx="2.65" ry="2.2"/><ellipse cx="628.4" cy="529.6" rx="2.65" ry="2.2"/><ellipse cx="630.33" cy="531.53" rx="2.65" ry="2.2"/><ellipse cx="632.23" cy="533.41" rx="2.65" ry="2.2"/><ellipse cx="634.1" cy="535.25" rx="2.65" ry="2.2"/><ellipse cx="635.96" cy="537.03" rx="2.65" ry="2.2"/><ellipse cx="637.8" cy="538.76" rx="2.65" ry="2.2"/><ellipse cx="639.62" cy="540.46" rx="2.65" ry="2.2"/><ellipse cx="641.43" cy="542.13" rx="2.65" ry="2.2"/><ellipse cx="643.21" cy="543.77" rx="2.65" ry="2.2"/><ellipse cx="644.98" cy="545.38" rx="2.65" ry="2.2"/><ellipse cx="646.73" cy="546.96" rx="2.65" ry="2.2"/><ellipse cx="648.46" cy="548.5" rx="2.65" ry="2.2"/><ellipse cx="650.18" cy="549.99" rx="2.65" ry="2.2"/><ellipse cx="651.88" cy="551.45" rx="2.65" ry="2.2"/><ellipse cx="653.56" cy="552.85" rx="2.65" ry="2.2"/><ellipse cx="655.22" cy="554.22" rx="2.65" ry="2.2"/><ellipse cx="656.87" cy="555.53" rx="2.65" ry="2.2"/><ellipse cx="658.5" cy="556.81" rx="2.65" ry="2.2"/><ellipse cx="660.12" cy="558.04" rx="2.65" ry="2.2"/><ellipse cx="661.72" cy="559.25" rx="2.65" ry="2.2"/><ellipse cx="663.3" cy="560.42" rx="2.65" ry="2.2"/><ellipse cx="664.87" cy="561.57" rx="2.65" ry="2.2"/><ellipse cx="666.42" cy="562.68" rx="2.65" ry="2.2"/><ellipse cx="667.95" cy="563.78" rx="2.65" ry="2.2"/><ellipse cx="669.47" cy="564.85" rx="2.65" ry="2.2"/><ellipse cx="670.98" cy="565.9" rx="2.65" ry="2.2"/><ellipse cx="672.47" cy="566.94" rx="2.65" ry="2.2"/><ellipse cx="673.94" cy="567.96" rx="2.65" ry="2.2"/><ellipse cx="675.41" cy="568.96" rx="2.65" ry="2.2"/><ellipse cx="676.85" cy="569.93" rx="2.65" ry="2.2"/><ellipse cx="678.28" cy="570.89" rx="2.65" ry="2.2"/><ellipse cx="679.7" cy="571.83" rx="2.65" ry="2.2"/><ellipse cx="681.1" cy="572.74" rx="2.65" ry="2.2"/><ellipse cx="682.49" cy="573.64" rx="2.65" ry="2.2"/><ellipse cx="683.87" cy="574.53" rx="2.65" ry="2.2"/><ellipse cx="685.23" cy="575.4" rx="2.65" ry="2.2"/><ellipse cx="686.58" cy="576.27" rx="2.65" ry="2.2"/><ellipse cx="687.92" cy="577.12" rx="2.65" ry="2.2"/><ellipse cx="689.24" cy="577.96" rx="2.65" ry="2.2"/><ellipse cx="690.55" cy="578.8" rx="2.65" ry="2.2"/><ellipse cx="691.85" cy="579.63" rx="2.65" ry="2.2"/><ellipse cx="693.13" cy="580.45" rx="2.65" ry="2.2"/><ellipse cx="694.4" cy="581.26" rx="2.65" ry="2.2"/><ellipse cx="695.66" cy="582.07" rx="2.65" ry="2.2"/><ellipse cx="696.91" cy="582.87" rx="2.65" ry="2.2"/><ellipse cx="698.15" cy="583.66" rx="2.65" ry="2.2"/><ellipse cx="699.37" cy="584.43" rx="2.65" ry="2.2"/><ellipse cx="700.58" cy="585.2" rx="2.65" ry="2.2"/><ellipse cx="701.78" cy="585.96" rx="2.65" ry="2.2"/><ellipse cx="702.97" cy="586.72" rx="2.65" ry="2.2"/><ellipse cx="704.15" cy="587.46" rx="2.65" ry="2.2"/><ellipse cx="705.31" cy="588.2" rx="2.65" ry="2.2"/><ellipse cx="706.47" cy="588.92" rx="2.65" ry="2.2"/><ellipse cx="707.61" cy="589.64" rx="2.65" ry="2.2"/><ellipse cx="708.74" cy="590.35" rx="2.65" ry="2.2"/><ellipse cx="709.87" cy="591.05" rx="2.65" ry="2.2"/><ellipse cx="710.9" cy="591.7" rx="2.65" ry="2.2"/>
</g></svg>
<text transform="translate(57.2 295.5) scale(1.17 1)" font-size="15.6" text-anchor="end">0</text>
<text transform="translate(57.2 255) scale(1.17 1)" font-size="15.6" text-anchor="end">0,1</text>
<text transform="translate(57.2 214.5) scale(1.17 1)" font-size="15.6" text-anchor="end">0,2</text>
<text transform="translate(57.2 174) scale(1.17 1)" font-size="15.6" text-anchor="end">0,3</text>
<text transform="translate(57.2 133.5) scale(1.17 1)" font-size="15.6" text-anchor="end">0,4</text>
<text transform="translate(57.2 93) scale(1.17 1)" font-size="15.6" text-anchor="end">0,5</text>
<text transform="translate(57.2 52.5) scale(1.17 1)" font-size="15.6" text-anchor="end">0,6</text>
<text transform="translate(57.2 14.9) scale(1.17 1)" font-size="15.6" text-anchor="end">0,7</text>
<text transform="translate(432 295.5) scale(1.17 1)" font-size="15.6" text-anchor="end">0</text>
<text transform="translate(432 255) scale(1.17 1)" font-size="15.6" text-anchor="end">0,1</text>
<text transform="translate(432 214.5) scale(1.17 1)" font-size="15.6" text-anchor="end">0,2</text>
<text transform="translate(432 174) scale(1.17 1)" font-size="15.6" text-anchor="end">0,3</text>
<text transform="translate(432 133.5) scale(1.17 1)" font-size="15.6" text-anchor="end">0,4</text>
<text transform="translate(432 93) scale(1.17 1)" font-size="15.6" text-anchor="end">0,5</text>
<text transform="translate(432 52.5) scale(1.17 1)" font-size="15.6" text-anchor="end">0,6</text>
<text transform="translate(432 14.9) scale(1.17 1)" font-size="15.6" text-anchor="end">0,7</text>
<text transform="translate(57.2 617.7) scale(1.17 1)" font-size="15.6" text-anchor="end">0</text>
<text transform="translate(57.2 577.26) scale(1.17 1)" font-size="15.6" text-anchor="end">0,1</text>
<text transform="translate(57.2 536.82) scale(1.17 1)" font-size="15.6" text-anchor="end">0,2</text>
<text transform="translate(57.2 496.38) scale(1.17 1)" font-size="15.6" text-anchor="end">0,3</text>
<text transform="translate(57.2 455.93) scale(1.17 1)" font-size="15.6" text-anchor="end">0,4</text>
<text transform="translate(57.2 415.49) scale(1.17 1)" font-size="15.6" text-anchor="end">0,5</text>
<text transform="translate(57.2 375.05) scale(1.17 1)" font-size="15.6" text-anchor="end">0,6</text>
<text transform="translate(57.2 337.5) scale(1.17 1)" font-size="15.6" text-anchor="end">0,7</text>
<text transform="translate(432 617.7) scale(1.17 1)" font-size="15.6" text-anchor="end">0,1</text>
<text transform="translate(432 570.52) scale(1.17 1)" font-size="15.6" text-anchor="end">0,2</text>
<text transform="translate(432 523.34) scale(1.17 1)" font-size="15.6" text-anchor="end">0,3</text>
<text transform="translate(432 476.15) scale(1.17 1)" font-size="15.6" text-anchor="end">0,4</text>
<text transform="translate(432 428.97) scale(1.17 1)" font-size="15.6" text-anchor="end">0,5</text>
<text transform="translate(432 381.79) scale(1.17 1)" font-size="15.6" text-anchor="end">0,6</text>
<text transform="translate(432 337.5) scale(1.17 1)" font-size="15.6" text-anchor="end">0,7</text>
<text transform="translate(62.5 308.5) scale(1.17 1)" font-size="15.6" text-anchor="middle">0</text>
<text transform="translate(138.5 308.5) scale(1.17 1)" font-size="15.6" text-anchor="middle">50</text>
<text transform="translate(214.5 308.5) scale(1.17 1)" font-size="15.6" text-anchor="middle">100</text>
<text transform="translate(290.5 308.5) scale(1.17 1)" font-size="15.6" text-anchor="middle">150</text>
<text transform="translate(360.3 308.5) scale(1.17 1)" font-size="15.6" text-anchor="middle">200</text>
<text transform="translate(437.9 308.5) scale(1.17 1)" font-size="15.6" text-anchor="middle">0</text>
<text transform="translate(481.41 308.5) scale(1.17 1)" font-size="15.6" text-anchor="middle">2,5</text>
<text transform="translate(524.93 308.5) scale(1.17 1)" font-size="15.6" text-anchor="middle">5</text>
<text transform="translate(568.44 308.5) scale(1.17 1)" font-size="15.6" text-anchor="middle">7,5</text>
<text transform="translate(611.96 308.5) scale(1.17 1)" font-size="15.6" text-anchor="middle">10</text>
<text transform="translate(655.47 308.5) scale(1.17 1)" font-size="15.6" text-anchor="middle">12,5</text>
<text transform="translate(698.99 308.5) scale(1.17 1)" font-size="15.6" text-anchor="middle">15</text>
<text transform="translate(719.2 308.5) scale(1.17 1)" font-size="15.6" text-anchor="start">17,5</text>
<text transform="translate(62.5 630.7) scale(1.17 1)" font-size="15.6" text-anchor="middle">0</text>
<text transform="translate(138.5 630.7) scale(1.17 1)" font-size="15.6" text-anchor="middle">0,5</text>
<text transform="translate(290.5 630.7) scale(1.17 1)" font-size="15.6" text-anchor="middle">1,5</text>
<text transform="translate(366.5 630.7) scale(1.17 1)" font-size="15.6" text-anchor="middle">2</text>
<text transform="translate(437.9 630.7) scale(1.17 1)" font-size="15.6" text-anchor="middle">0</text>
<text transform="translate(481.41 630.7) scale(1.17 1)" font-size="15.6" text-anchor="middle">2,5×10<tspan dy="-6.5" font-size="10.5">−3</tspan></text>
<text transform="translate(698.99 630.7) scale(1.17 1)" font-size="15.6" text-anchor="middle">0,015</text>
<rect x="196.7" y="22.5" width="152.1" height="46.4" fill="#fff" stroke="#222" stroke-width="1.0"/>
<path d="M214.9 37.7h38.2" stroke="#ff0000" stroke-width="1"/>
<path d="M214.9 53.5h38.2" stroke="#008b00" stroke-width="1"/>
<g fill="#ff0000" stroke="#000" stroke-width="0.95"><ellipse cx="233.6" cy="37.7" rx="2.65" ry="2.2"/></g>
<g fill="#008c00" stroke="#000" stroke-width="0.95"><path d="M229.85 53.5l3.75 -3.1l3.75 3.1l-3.75 3.1z"/></g>
<text transform="translate(271.2 42.7) scale(1.06 1)" font-size="14.3" text-anchor="start">work</text>
<text transform="translate(271.2 57.9) scale(1.06 1)" font-size="14.3" text-anchor="start">efficiency</text>
<rect x="572.1" y="22.5" width="152.1" height="46.4" fill="#fff" stroke="#222" stroke-width="1.0"/>
<path d="M590.3 37.7h38.2" stroke="#ff0000" stroke-width="1"/>
<path d="M590.3 53.5h38.2" stroke="#008b00" stroke-width="1"/>
<g fill="#ff0000" stroke="#000" stroke-width="0.95"><ellipse cx="609" cy="37.7" rx="2.65" ry="2.2"/></g>
<g fill="#008c00" stroke="#000" stroke-width="0.95"><path d="M605.25 53.5l3.75 -3.1l3.75 3.1l-3.75 3.1z"/></g>
<text transform="translate(646.6 42.7) scale(1.06 1)" font-size="14.3" text-anchor="start">work</text>
<text transform="translate(646.6 57.9) scale(1.06 1)" font-size="14.3" text-anchor="start">efficiency</text>
<rect x="196.7" y="344.5" width="152.1" height="46.4" fill="#fff" stroke="#222" stroke-width="1.0"/>
<path d="M214.9 359.7h38.2" stroke="#ff0000" stroke-width="1"/>
<path d="M214.9 375.5h38.2" stroke="#008b00" stroke-width="1"/>
<g fill="#ff0000" stroke="#000" stroke-width="0.95"><ellipse cx="233.6" cy="359.7" rx="2.65" ry="2.2"/></g>
<g fill="#008c00" stroke="#000" stroke-width="0.95"><path d="M229.85 375.5l3.75 -3.1l3.75 3.1l-3.75 3.1z"/></g>
<text transform="translate(271.2 364.7) scale(1.06 1)" font-size="14.3" text-anchor="start">work</text>
<text transform="translate(271.2 379.9) scale(1.06 1)" font-size="14.3" text-anchor="start">efficiency</text>
<rect x="572.1" y="344.5" width="152.1" height="46.4" fill="#fff" stroke="#222" stroke-width="1.0"/>
<path d="M590.3 359.7h38.2" stroke="#ff0000" stroke-width="1"/>
<path d="M590.3 375.5h38.2" stroke="#008b00" stroke-width="1"/>
<g fill="#ff0000" stroke="#000" stroke-width="0.95"><ellipse cx="609" cy="359.7" rx="2.65" ry="2.2"/></g>
<g fill="#008c00" stroke="#000" stroke-width="0.95"><path d="M605.25 375.5l3.75 -3.1l3.75 3.1l-3.75 3.1z"/></g>
<text transform="translate(646.6 364.7) scale(1.06 1)" font-size="14.3" text-anchor="start">work</text>
<text transform="translate(646.6 379.9) scale(1.06 1)" font-size="14.3" text-anchor="start">efficiency</text>
<text transform="translate(184.3 105.9) scale(1.165 1)" font-size="13.8" text-anchor="start">k=1.6, T<tspan dy="2.4" font-size="7.6">c</tspan><tspan dy="-2.4">=</tspan>200, T<tspan dy="2.4" font-size="7.6">h</tspan><tspan dy="-2.4">=</tspan>400</text>
<text transform="translate(560.4 105.9) scale(1.165 1)" font-size="13.8" text-anchor="start">k=2, T<tspan dy="2.4" font-size="7.6">c</tspan><tspan dy="-2.4">=</tspan>100, T<tspan dy="2.4" font-size="7.6">h</tspan><tspan dy="-2.4">=</tspan>200</text>
<text transform="translate(184.1 428.6) scale(1.165 1)" font-size="13.8" text-anchor="start">k=2.2, T<tspan dy="2.4" font-size="7.6">c</tspan><tspan dy="-2.4">=</tspan>10, T<tspan dy="2.4" font-size="7.6">h</tspan><tspan dy="-2.4">=</tspan>20</text>
<text transform="translate(590.6 428.4) scale(1.165 1)" font-size="13.8" text-anchor="start">k=3, T<tspan dy="2.4" font-size="7.6">c</tspan><tspan dy="-2.4">=</tspan>1, T<tspan dy="2.4" font-size="7.6">h</tspan><tspan dy="-2.4">=</tspan>2</text>
<text transform="translate(17.1 148.9) rotate(-90) scale(1 1.12)" font-size="18.2" text-anchor="middle" stroke="#000" stroke-width="0.25">Work and Effiiency</text>
<text transform="translate(17.1 471.5) rotate(-90) scale(1 1.12)" font-size="18.2" text-anchor="middle" stroke="#000" stroke-width="0.25">Work and Effiiency</text>
<text transform="translate(164 640.8) scale(1.1 1)" font-size="19.0" text-anchor="start">Ω(k) × 10<tspan dy="-8" font-size="12.5">-24</tspan></text>
<text transform="translate(540.2 640.8) scale(1.1 1)" font-size="19.0" text-anchor="start">Ω(k) × 10<tspan dy="-8" font-size="12.5">-24</tspan></text>
</svg>
</body></html>
